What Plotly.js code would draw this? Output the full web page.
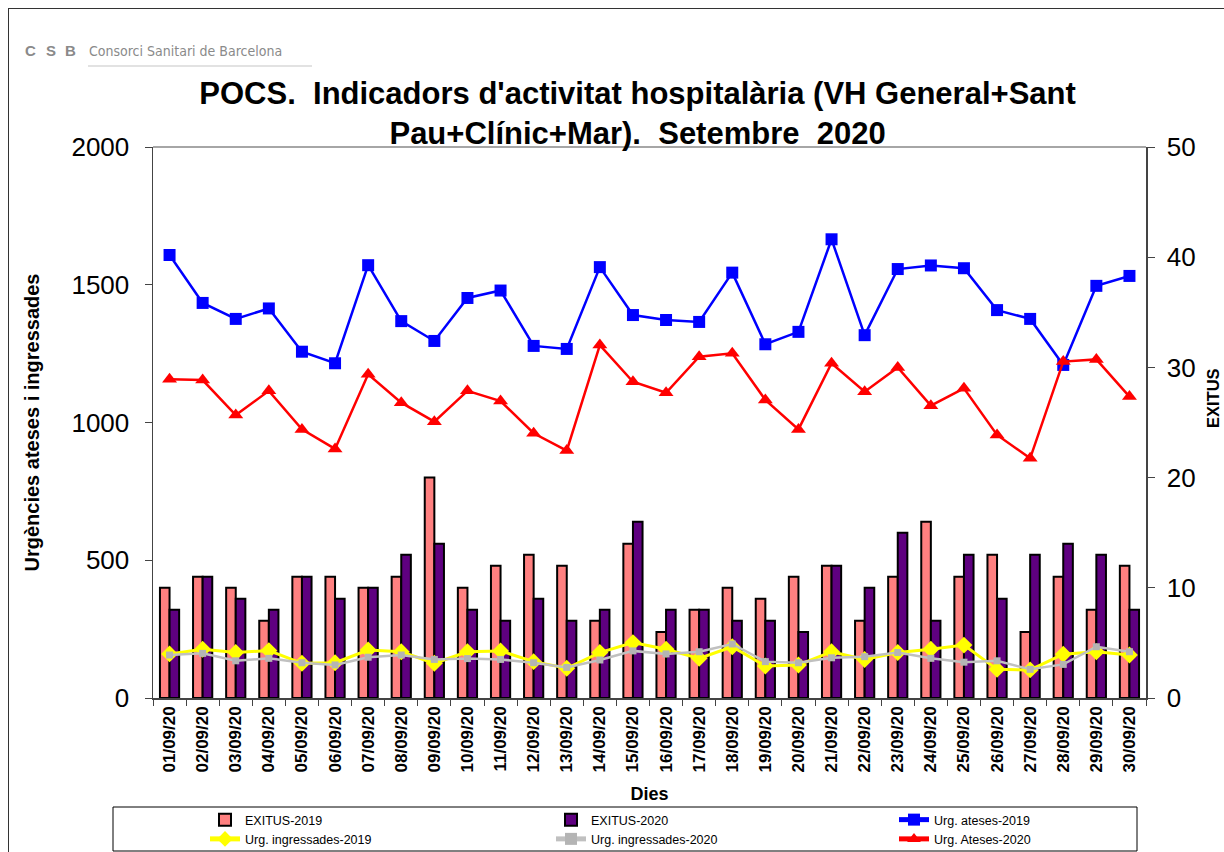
<!DOCTYPE html>
<html>
<head>
<meta charset="utf-8">
<script src="https://cdn.plot.ly/plotly-3.0.1.min.js"></script>
<style>
    body { margin: 0; background: white; }
    #chart { width: 1224px; height: 852px; }
    #frame {
        position: absolute; left: 8px; top: 8px; width: 1300px; height: 1000px;
        border-left: 1px solid #333; border-top: 1px solid #333; pointer-events: none;
    }
</style>
</head>
<body>
<div id="chart"></div>
<div id="frame"></div>
<script>
var dies = ["01/09/20", "02/09/20", "03/09/20", "04/09/20", "05/09/20", "06/09/20", "07/09/20", "08/09/20", "09/09/20", "10/09/20",
    "11/09/20", "12/09/20", "13/09/20", "14/09/20", "15/09/20", "16/09/20", "17/09/20", "18/09/20", "19/09/20", "20/09/20",
    "21/09/20", "22/09/20", "23/09/20", "24/09/20", "25/09/20", "26/09/20", "27/09/20", "28/09/20", "29/09/20", "30/09/20"];

var exitus2019 = [10, 11, 10, 7, 11, 11, 10, 11, 20, 10, 12, 13, 12, 7, 14, 6, 8, 10, 9, 11, 12, 7, 11, 16, 11, 13, 6, 11, 8, 12];
var exitus2020 = [8, 11, 9, 8, 11, 9, 10, 13, 14, 8, 7, 9, 7, 8, 16, 8, 8, 7, 7, 6, 12, 10, 15, 7, 13, 9, 13, 14, 13, 8];

var ateses2019 = [1608, 1434, 1376, 1414, 1257, 1215, 1571, 1368, 1296, 1452, 1479, 1278, 1267, 1564, 1390,
    1372, 1365, 1544, 1284, 1329, 1665, 1317, 1557, 1570, 1560, 1408, 1376, 1209, 1496, 1532];
var ateses2020 = [1157, 1154, 1027, 1115, 975, 904, 1175, 1072, 1003, 1115, 1078, 961, 898, 1281, 1148,
    1108, 1239, 1251, 1082, 975, 1215, 1112, 1200, 1061, 1124, 955, 870, 1221, 1229, 1094];
var ingressades2019 = [160, 177, 165, 172, 126, 128, 174, 168, 126, 168, 171, 132, 108, 165, 201,
    177, 144, 186, 116, 120, 168, 140, 165, 177, 192, 104, 102, 159, 168, 156];
var ingressades2020 = [156, 162, 135, 144, 128, 120, 148, 156, 140, 143, 140, 128, 111, 138, 171,
    160, 168, 196, 132, 128, 146, 150, 165, 144, 130, 135, 104, 122, 186, 168];

var barLine = {color: "black", width: 2};

// three legends = the three columns of the original legend box
var data = [
    {name: "EXITUS-2019", type: "bar", x: dies, y: exitus2019, yaxis: "y", legend: "legend",
        marker: {color: "#ff8080", line: barLine}},
    {name: "EXITUS-2020", type: "bar", x: dies, y: exitus2020, yaxis: "y", legend: "legend2",
        marker: {color: "#5f0080", line: barLine}},
    {name: "Urg. ateses-2019", type: "scatter", mode: "lines+markers", x: dies, y: ateses2019, yaxis: "y2", legend: "legend3",
        line: {color: "#0000ff", width: 2.5}, marker: {symbol: "square", size: 12, color: "#0000ff"}},
    {name: "Urg. ingressades-2019", type: "scatter", mode: "lines+markers", x: dies, y: ingressades2019, yaxis: "y2", legend: "legend",
        line: {color: "#ffff00", width: 3}, marker: {symbol: "diamond", size: 13, color: "#ffff00"}},
    {name: "Urg. ingressades-2020", type: "scatter", mode: "lines+markers", x: dies, y: ingressades2020, yaxis: "y2", legend: "legend2",
        line: {color: "#c0c0c0", width: 2.5}, marker: {symbol: "square", size: 7, color: "#b4b4b4"}},
    {name: "Urg. Ateses-2020", type: "scatter", mode: "lines+markers", x: dies, y: ateses2020, yaxis: "y2", legend: "legend3",
        line: {color: "#ff0000", width: 2.5}, marker: {symbol: "triangle-up", size: 13, color: "#ff0000"}}
];

// paper coords helpers (plot area is 153..1146 x 147..698)
function px(v) { return (v - 153) / 993; }
function py(v) { return (698 - v) / 551; }

function legendAt(left) {
    return {
        orientation: "v",
        xref: "paper", x: px(left), xanchor: "left",
        yref: "paper", y: py(805), yanchor: "top",
        bgcolor: "rgba(0,0,0,0)", borderwidth: 0,
        font: {size: 12.5},
        itemsizing: "constant",
        tracegroupgap: 0
    };
}

var logoFont = {size: 15, color: "#8a8a8a", weight: "bold"};

var layout = {
    width: 1224,
    height: 852,
    margin: {l: 153, r: 78, t: 147, b: 154, autoexpand: false},
    paper_bgcolor: "white",
    plot_bgcolor: "white",
    font: {family: "Arial, 'Liberation Sans', sans-serif", color: "black"},
    showlegend: true,
    barmode: "group",
    bargap: 0.42,
    bargroupgap: 0,
    title: {
        text: "POCS.  Indicadors d'activitat hospitalària (VH General+Sant<br>Pau+Clínic+Mar).  Setembre  2020",
        font: {size: 31, color: "black", weight: "bold"},
        xref: "paper", x: 0.488, xanchor: "center",
        yref: "container", y: 0.878, yanchor: "top"
    },
    xaxis: {
        type: "category",
        range: [-0.5, 29.5],
        showline: true, linecolor: "#444", linewidth: 1.5,
        ticks: "outside", tickson: "boundaries", ticklen: 6, tickcolor: "#444",
        tickangle: -90,
        tickfont: {size: 17, weight: "bold"},
        showgrid: false,
        title: {text: "Dies", font: {size: 18, weight: "bold"}, standoff: 16}
    },
    yaxis: {
        side: "right",
        range: [0, 50],
        dtick: 10,
        showline: true, linecolor: "#444", linewidth: 1.5,
        ticks: "outside", ticklen: 7, tickcolor: "#444",
        tickfont: {size: 26},
        ticklabelstandoff: 7,
        showgrid: false, zeroline: false
    },
    yaxis2: {
        side: "left",
        overlaying: "y",
        range: [0, 2000],
        dtick: 500,
        showline: true, linecolor: "#444", linewidth: 1.5,
        ticks: "outside", ticklen: 7, tickcolor: "#444",
        tickfont: {size: 26},
        ticklabelstandoff: 10,
        showgrid: false, zeroline: false,
        title: {text: "Urgències ateses i ingressades", font: {size: 20, weight: "bold"}, standoff: 26}
    },
    legend: legendAt(205),
    legend2: legendAt(551),
    legend3: legendAt(894),
    shapes: [
        // grey top edge of the plot area
        {type: "line", xref: "paper", yref: "paper", x0: 0, x1: 1, y0: 1, y1: 1,
            line: {color: "#888", width: 1.5}},
        // legend box
        {type: "rect", xref: "paper", yref: "paper", x0: px(113), x1: px(1137), y0: py(807), y1: py(851),
            line: {color: "black", width: 1}},
        // logo underline
        {type: "line", xref: "paper", yref: "paper", x0: px(88), x1: px(312), y0: py(66), y1: py(66),
            line: {color: "#d8d8d8", width: 1.5}}
    ],
    annotations: [
        {text: "EXITUS", xref: "paper", yref: "paper", x: px(1213), y: py(398), textangle: -90,
            xanchor: "center", yanchor: "middle", showarrow: false,
            font: {size: 16.5, weight: "bold"}},
        {text: "C", xref: "paper", yref: "paper", x: px(30), y: py(51), xanchor: "center", yanchor: "middle",
            showarrow: false, font: logoFont},
        {text: "S", xref: "paper", yref: "paper", x: px(51), y: py(51), xanchor: "center", yanchor: "middle",
            showarrow: false, font: logoFont},
        {text: "B", xref: "paper", yref: "paper", x: px(70), y: py(51), xanchor: "center", yanchor: "middle",
            showarrow: false, font: logoFont},
        {text: "Consorci Sanitari de Barcelona", xref: "paper", yref: "paper", x: px(87), y: py(51),
            xanchor: "left", yanchor: "middle", showarrow: false,
            font: {size: 14, color: "#8a8a8a", family: "'Liberation Sans Narrow', 'DejaVu Sans Condensed', Arial"}}
    ]
};

Plotly.newPlot("chart", data, layout, {displayModeBar: false, staticPlot: true});
</script>
</body>
</html>
